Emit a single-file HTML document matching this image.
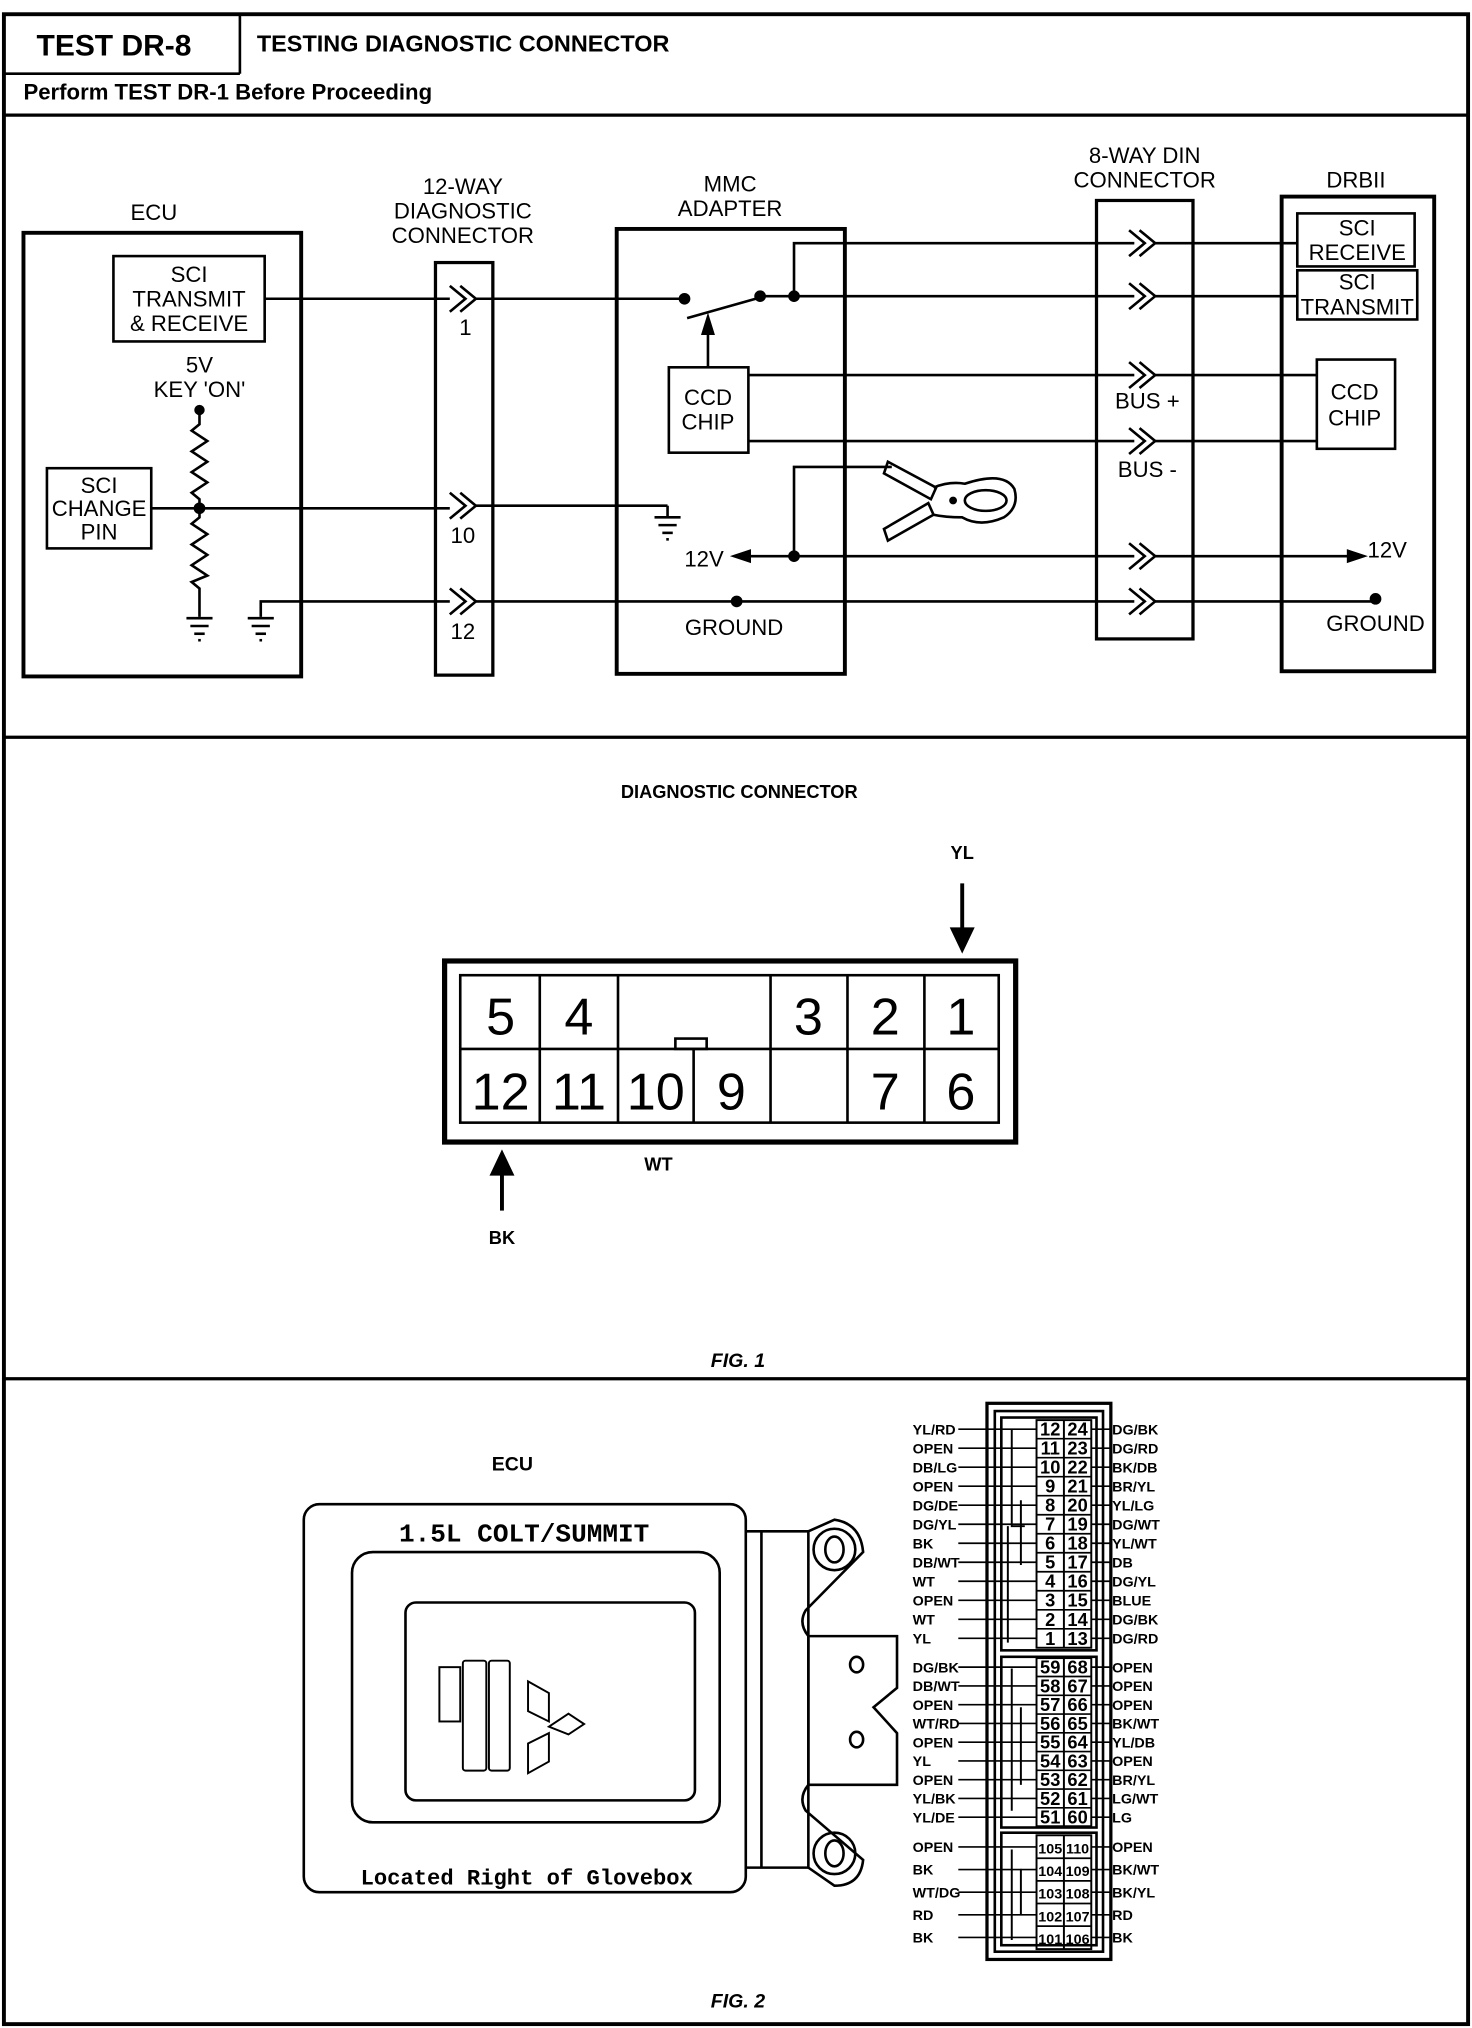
<!DOCTYPE html>
<html><head><meta charset="utf-8"><style>
html,body{margin:0;padding:0;background:#fff;}
svg{display:block;}
text{font-family:"Liberation Sans",sans-serif;fill:#000;}
.n{font-family:"Liberation Sans Narrow","Liberation Sans",sans-serif;font-size:17px;text-anchor:middle;}
.m{font-family:"Liberation Mono",monospace;font-weight:bold;}
.d{font-family:"Liberation Sans Narrow","Liberation Sans",sans-serif;font-size:40px;text-anchor:middle;}
.p{font-family:"Liberation Sans",sans-serif;font-size:11px;font-weight:bold;}
.w{font-family:"Liberation Sans Narrow","Liberation Sans",sans-serif;font-size:14px;text-anchor:middle;font-weight:bold;}
</style></head><body>
<svg width="1472" height="2028" viewBox="0 0 1129 1568" preserveAspectRatio="none" xmlns="http://www.w3.org/2000/svg">
<g fill="none" stroke="#000" stroke-width="2">
<!-- frame -->
<rect x="3" y="11" width="1123" height="1554" stroke-width="3"/>
<line x1="3" y1="57" x2="184" y2="57"/>
<line x1="184" y1="11" x2="184" y2="57"/>
<line x1="3" y1="89" x2="1126" y2="89" stroke-width="2.5"/>
<line x1="3" y1="570" x2="1126" y2="570" stroke-width="2.5"/>
<line x1="3" y1="1066" x2="1126" y2="1066" stroke-width="2.5"/>

<!-- ECU -->
<rect x="18" y="180" width="213" height="343" stroke-width="3"/>
<rect x="87" y="198" width="116" height="66"/>
<rect x="36" y="362" width="80" height="62"/>
<circle cx="153" cy="317" r="3" fill="#000"/>
<polyline points="153,317 153,328 147,333 159,341 147,349 159,357 147,365 159,373 147,381 153,386 153,400 147,405 159,413 147,421 159,429 147,437 159,445 147,450 153,455 153,477"/>
<circle cx="153" cy="393" r="3.5" fill="#000"/>
<line x1="116" y1="393" x2="345" y2="393"/>
<line x1="143" y1="478" x2="163" y2="478"/><line x1="146" y1="484" x2="160" y2="484"/><line x1="149" y1="490" x2="157" y2="490"/><line x1="152" y1="495" x2="154" y2="495"/>
<polyline points="200,477 200,465 345,465"/>
<line x1="190" y1="478" x2="210" y2="478"/><line x1="193" y1="484" x2="207" y2="484"/><line x1="196" y1="490" x2="204" y2="490"/><line x1="199" y1="495" x2="201" y2="495"/>
<line x1="203" y1="231" x2="345" y2="231"/>

<!-- 12-way -->
<rect x="334" y="203" width="44" height="319" stroke-width="2.5"/>
<path d="M345,221 L357,231 L345,241 M353,221 L365,231 L353,241"/>
<path d="M345,381 L357,391 L345,401 M353,381 L365,391 L353,401"/>
<path d="M345,455 L357,465 L345,475 M353,455 L365,465 L353,475"/>
<line x1="365" y1="231" x2="525" y2="231"/>
<line x1="365" y1="391" x2="512" y2="391"/>
<polyline points="512,391 512,399"/>
<line x1="502" y1="400" x2="522" y2="400"/><line x1="505" y1="406" x2="519" y2="406"/><line x1="508" y1="412" x2="516" y2="412"/><line x1="511" y1="417" x2="513" y2="417"/>
<line x1="365" y1="465" x2="870" y2="465"/>

<!-- MMC -->
<rect x="473" y="177" width="175" height="344" stroke-width="3"/>
<circle cx="525" cy="231" r="3.5" fill="#000"/>
<circle cx="583" cy="229" r="3.5" fill="#000"/>
<circle cx="609" cy="229" r="3.5" fill="#000"/>
<line x1="527" y1="246" x2="583" y2="230"/>
<line x1="583" y1="229" x2="870" y2="229"/>
<polyline points="609,229 609,188 870,188"/>
<line x1="543" y1="284" x2="543" y2="255"/>
<path d="M539,258 L543,245 L547,258 Z" fill="#000"/>
<rect x="513" y="284" width="61" height="66"/>
<line x1="574" y1="290" x2="870" y2="290"/>
<line x1="574" y1="341" x2="870" y2="341"/>
<line x1="572" y1="430" x2="870" y2="430"/>
<path d="M563,430 L575,426 L575,434 Z" fill="#000"/>
<circle cx="609" cy="430" r="3.5" fill="#000"/>
<polyline points="609,430 609,361 684,361"/>
<circle cx="565" cy="465" r="3.5" fill="#000"/>
<!-- clamp -->
<path d="M681,357 L718,377 L714,386 L678,366 Z"/>
<path d="M681,418 L716,398 L712,389 L678,409 Z"/>
<path d="M716,377 Q728,372 740,374 Q770,364 778,378 Q782,392 770,400 Q752,408 738,400 Q725,400 716,398"/>
<ellipse cx="756" cy="387" rx="16" ry="8"/>
<circle cx="731" cy="387" r="2" fill="#000"/>

<!-- DIN -->
<rect x="841" y="155" width="74" height="339" stroke-width="2.5"/>
<path d="M866,178 L878,188 L866,198 M874,178 L886,188 L874,198"/>
<path d="M866,219 L878,229 L866,239 M874,219 L886,229 L874,239"/>
<path d="M866,280 L878,290 L866,300 M874,280 L886,290 L874,300"/>
<path d="M866,331 L878,341 L866,351 M874,331 L886,341 L874,351"/>
<path d="M866,420 L878,430 L866,440 M874,420 L886,430 L874,440"/>
<path d="M866,455 L878,465 L866,475 M874,455 L886,465 L874,475"/>
<line x1="886" y1="188" x2="995" y2="188"/>
<line x1="886" y1="229" x2="995" y2="229"/>
<line x1="886" y1="290" x2="1010" y2="290"/>
<line x1="886" y1="341" x2="1010" y2="341"/>
<line x1="886" y1="430" x2="1036" y2="430"/>
<path d="M1046,430 L1034,426 L1034,434 Z" fill="#000"/>
<line x1="886" y1="465" x2="1055" y2="465"/>
<circle cx="1055" cy="463" r="3.5" fill="#000"/>

<!-- DRBII -->
<rect x="983" y="152" width="117" height="367" stroke-width="3"/>
<rect x="995" y="165" width="90" height="41"/>
<rect x="995" y="209" width="92" height="38"/>
<rect x="1010" y="278" width="60" height="69"/>

<!-- diag connector -->
<line x1="738" y1="683" x2="738" y2="722" stroke-width="3"/>
<path d="M730,718 L738,735 L746,718 Z" fill="#000"/>
<rect x="341" y="743" width="438" height="140" stroke-width="4"/>
<rect x="353" y="754" width="413" height="114"/>
<line x1="353" y1="811" x2="766" y2="811"/>
<line x1="414" y1="754" x2="414" y2="868"/>
<line x1="474" y1="754" x2="474" y2="868"/>
<line x1="532" y1="811" x2="532" y2="868"/>
<line x1="591" y1="754" x2="591" y2="868"/>
<line x1="650" y1="754" x2="650" y2="868"/>
<line x1="709" y1="754" x2="709" y2="868"/>
<rect x="518" y="803" width="24" height="8"/>
<line x1="385" y1="904" x2="385" y2="936" stroke-width="3"/>
<path d="M377,908 L385,891 L393,908 Z" fill="#000"/>

<!-- ECU picture -->
<rect x="233" y="1163" width="339" height="300" rx="12"/>
<rect x="270" y="1200" width="282" height="209" rx="16"/>
<rect x="311" y="1239" width="222" height="153" rx="8"/>
<rect x="337" y="1289" width="16" height="42" stroke-width="1.5"/>
<rect x="355" y="1284" width="18" height="85" rx="2" stroke-width="1.5"/>
<rect x="375" y="1284" width="16" height="85" rx="2" stroke-width="1.5"/>
<path d="M405,1300 L421,1309 L421,1331 L405,1323 Z M405,1371 L421,1362 L421,1340 L405,1348 Z M421,1335 L436,1325 L448,1333 L436,1341 Z" stroke-width="1.5"/>
<path d="M572,1184 L620,1184 M572,1444 L620,1444"/>
<line x1="584" y1="1184" x2="584" y2="1444"/>
<path d="M620,1184 L640,1175 Q660,1178 662,1200 L618,1245 Q612,1255 620,1265 L688,1265 L688,1305 L670,1320 L688,1340 L688,1380 L620,1380 Q612,1390 618,1400 L662,1438 Q660,1458 640,1458 L620,1444 Z"/>
<circle cx="640" cy="1198" r="16"/><ellipse cx="640" cy="1198" rx="7" ry="10"/>
<circle cx="640" cy="1433" r="16"/><ellipse cx="640" cy="1433" rx="7" ry="10"/>
<ellipse cx="657" cy="1287" rx="5" ry="6"/><ellipse cx="657" cy="1345" rx="5" ry="6"/>
<line x1="620" y1="1265" x2="620" y2="1380"/>

<!-- pin connector -->
<rect x="757" y="1085" width="95" height="430" stroke-width="2.5"/>
<rect x="763" y="1091" width="83" height="418"/>
<rect x="768" y="1096" width="73" height="180"/>
<rect x="768" y="1281" width="73" height="132"/>
<rect x="768" y="1417" width="73" height="87"/>
<rect x="795" y="1098" width="42" height="176" stroke-width="1.5"/>
<line x1="816" y1="1098" x2="816" y2="1274" stroke-width="1.5"/>
<rect x="795" y="1282" width="42" height="130" stroke-width="1.5"/>
<line x1="816" y1="1282" x2="816" y2="1412" stroke-width="1.5"/>
<rect x="795" y="1419" width="42" height="88" stroke-width="1.5"/>
<line x1="816" y1="1419" x2="816" y2="1507" stroke-width="1.5"/>
<path d="M776,1105 L776,1180 L786,1180 M783,1160 L783,1210 M773,1180 L773,1270 M776,1290 L776,1400 M783,1320 L783,1380 M776,1430 L776,1500 M783,1445 L783,1480" stroke-width="1.5"/>
</g>

<g id="lines" stroke="#000" stroke-width="1.3">
<!-- left & right leads generated -->
</g>

<!-- text -->
<text x="28" y="43" font-size="23" font-weight="bold">TEST DR-8</text>
<text x="197" y="40" font-size="18" font-weight="bold">TESTING DIAGNOSTIC CONNECTOR</text>
<text x="18" y="77" font-size="17" font-weight="bold">Perform TEST DR-1 Before Proceeding</text>

<text class="n" x="118" y="170">ECU</text>
<text class="n" x="145" y="218">SCI</text>
<text class="n" x="145" y="237">TRANSMIT</text>
<text class="n" x="145" y="256">&amp; RECEIVE</text>
<text class="n" x="153" y="288">5V</text>
<text class="n" x="153" y="307">KEY 'ON'</text>
<text class="n" x="76" y="381">SCI</text>
<text class="n" x="76" y="399">CHANGE</text>
<text class="n" x="76" y="417">PIN</text>
<text class="n" x="355" y="150">12-WAY</text>
<text class="n" x="355" y="169">DIAGNOSTIC</text>
<text class="n" x="355" y="188">CONNECTOR</text>
<text class="n" x="357" y="259" font-size="14">1</text>
<text class="n" x="355" y="420" font-size="14">10</text>
<text class="n" x="355" y="494" font-size="14">12</text>
<text class="n" x="560" y="148">MMC</text>
<text class="n" x="560" y="167">ADAPTER</text>
<text class="n" x="543" y="313">CCD</text>
<text class="n" x="543" y="332">CHIP</text>
<text class="n" x="540" y="438">12V</text>
<text class="n" x="563" y="491">GROUND</text>
<text class="n" x="878" y="126">8-WAY DIN</text>
<text class="n" x="878" y="145">CONNECTOR</text>
<text class="n" x="880" y="316">BUS  +</text>
<text class="n" x="880" y="369">BUS  -</text>
<text class="n" x="1040" y="145">DRBII</text>
<text class="n" x="1041" y="182">SCI</text>
<text class="n" x="1041" y="201">RECEIVE</text>
<text class="n" x="1041" y="224">SCI</text>
<text class="n" x="1041" y="243">TRANSMIT</text>
<text class="n" x="1039" y="309">CCD</text>
<text class="n" x="1039" y="329">CHIP</text>
<text class="n" x="1064" y="431">12V</text>
<text class="n" x="1055" y="488">GROUND</text>

<text x="567" y="617" font-size="14" font-weight="bold" text-anchor="middle">DIAGNOSTIC CONNECTOR</text>
<text x="738" y="664" font-size="14" font-weight="bold" text-anchor="middle">YL</text>
<text class="d" x="384" y="800">5</text><text class="d" x="444" y="800">4</text>
<text class="d" x="620" y="800">3</text><text class="d" x="679" y="800">2</text><text class="d" x="737" y="800">1</text>
<text class="d" x="384" y="858">12</text><text class="d" x="444" y="858">11</text>
<text class="d" x="503" y="858">10</text><text class="d" x="561" y="858">9</text>
<text class="d" x="679" y="858">7</text><text class="d" x="737" y="858">6</text>
<text x="505" y="905" font-size="14" font-weight="bold" text-anchor="middle">WT</text>
<text x="385" y="962" font-size="14" font-weight="bold" text-anchor="middle">BK</text>
<text x="566" y="1057" font-size="15" font-weight="bold" font-style="italic" text-anchor="middle">FIG. 1</text>

<text x="393" y="1137" font-size="15" font-weight="bold" text-anchor="middle">ECU</text>
<text class="m" x="402" y="1192" font-size="20" text-anchor="middle">1.5L COLT/SUMMIT</text>
<text class="m" x="404" y="1457" font-size="17" text-anchor="middle">Located Right of Glovebox</text>
<text x="566" y="1552" font-size="15" font-weight="bold" font-style="italic" text-anchor="middle">FIG. 2</text>

<g id="pins"></g>
</svg>
<script>
(function(){
var NS="http://www.w3.org/2000/svg";
var pins=document.getElementById("pins"),ln=document.getElementById("lines");
function t(x,y,s,cls,anchor){var e=document.createElementNS(NS,"text");e.setAttribute("x",x);e.setAttribute("y",y);e.setAttribute("class",cls);if(anchor)e.setAttribute("text-anchor",anchor);e.textContent=s;pins.appendChild(e);}
function l(x1,y1,x2,y2){var e=document.createElementNS(NS,"line");e.setAttribute("x1",x1);e.setAttribute("y1",y1);e.setAttribute("x2",x2);e.setAttribute("y2",y2);ln.appendChild(e);}
var blocks=[
{y0:1105,st:14.7,L:["12","11","10","9","8","7","6","5","4","3","2","1"],R:["24","23","22","21","20","19","18","17","16","15","14","13"],
 LL:["YL/RD","OPEN","DB/LG","OPEN","DG/DE","DG/YL","BK","DB/WT","WT","OPEN","WT","YL"],
 RL:["DG/BK","DG/RD","BK/DB","BR/YL","YL/LG","DG/WT","YL/WT","DB","DG/YL","BLUE","DG/BK","DG/RD"]},
{y0:1289,st:14.5,L:["59","58","57","56","55","54","53","52","51"],R:["68","67","66","65","64","63","62","61","60"],
 LL:["DG/BK","DB/WT","OPEN","WT/RD","OPEN","YL","OPEN","YL/BK","YL/DE"],
 RL:["OPEN","OPEN","OPEN","BK/WT","YL/DB","OPEN","BR/YL","LG/WT","LG"]},
{y0:1428,st:17.5,L:["105","104","103","102","101"],R:["110","109","108","107","106"],
 LL:["OPEN","BK","WT/DG","RD","BK"],RL:["OPEN","BK/WT","BK/YL","RD","BK"]}];
blocks.forEach(function(b){
 for(var i=0;i<b.L.length;i++){var y=b.y0+i*b.st;
  var sz=b.L[i].length>2?"11px":"14px";
  t(805.5,y+5,b.L[i],"w");t(826.5,y+5,b.R[i],"w");
  pins.lastChild.style.fontSize=sz;pins.lastChild.previousSibling.style.fontSize=sz;
  if(i<b.L.length-1){l(795,y+b.st/2,837,y+b.st/2);}
  t(700,y+4,b.LL[i],"p");t(853,y+4,b.RL[i],"p");
  l(735,y,795,y);l(837,y,852,y);
 }
});
})();
</script>
</body></html>
